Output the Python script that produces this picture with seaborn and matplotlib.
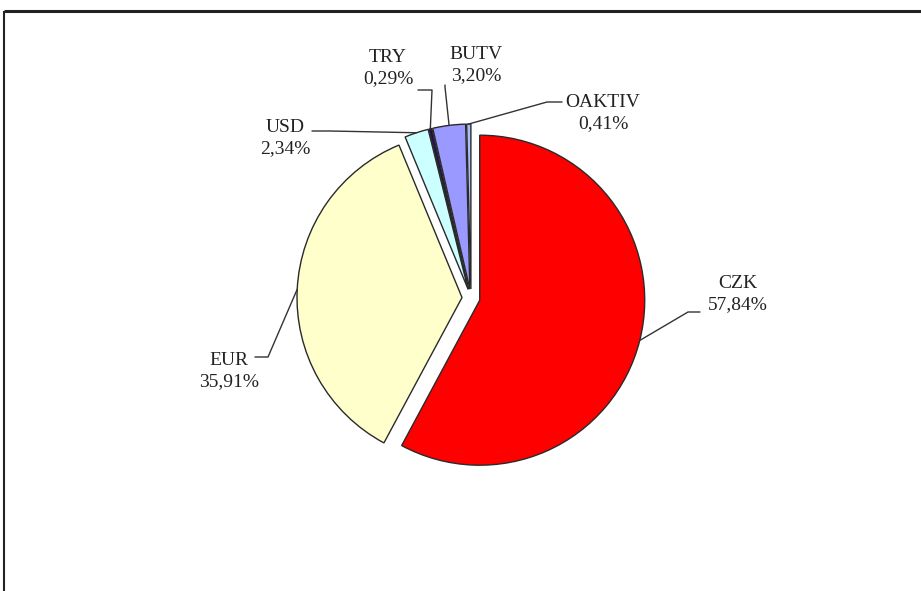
import numpy as np
import matplotlib
matplotlib.use("Agg")
import matplotlib.pyplot as plt
import seaborn as sns

# data
currencies = ["CZK", "EUR", "USD", "TRY", "BUTV", "OAKTIV"]
shares = [57.84, 35.91, 2.34, 0.29, 3.20, 0.41]
share_labels = ["57,84%", "35,91%", "2,34%", "0,29%", "3,20%", "0,41%"]
colors = ["#FF0000", "#FFFFCC", "#CCFFFF", "#240A5C", "#9999FF", "#A9BFF8"]

sns.set_theme(style="white")
plt.rcParams["font.family"] = ["Liberation Serif", "DejaVu Serif"]

W, H = 921, 591
fig = plt.figure(figsize=(W / 100, H / 100), dpi=100)
ax = fig.add_axes([0, 0, 1, 1])

R = 165
# explode is in data units here (pixels)
wedges, _ = ax.pie(shares, colors=colors, startangle=90, counterclock=False,
                   radius=R, center=(471, H - 298), explode=[9] * len(shares),
                   wedgeprops=dict(edgecolor="#2a2a2a", linewidth=1.0), frame=True)
ax.set_xlim(0, W)
ax.set_ylim(0, H)
ax.set_aspect("equal")
ax.axis("off")

# label layout in screen pixels: text centre, line end near text, elbow
text_pos = [(738, 294), (229, 371), (285, 138), (388, 68), (476, 65), (603, 113)]
line_end = [(700, 312), (255, 357), (312, 131), (418, 90), (445, 85), (562, 102)]
elbow = [(688, 312), (268, 357), (330, 131), (432, 90), (445, 87), (547, 102)]

for w, name, lab, tp, le, eb in zip(wedges, currencies, share_labels, text_pos, line_end, elbow):
    ang = np.deg2rad((w.theta1 + w.theta2) / 2)
    cx, cy = w.center
    px, py = cx + w.r * np.cos(ang), cy + w.r * np.sin(ang)
    ax.plot([le[0], eb[0], px], [H - le[1], H - eb[1], py], color="#333333", lw=1.0)
    ax.text(tp[0], H - tp[1], f"{name}\n{lab}", ha="center", va="center",
            fontsize=14, linespacing=1.25, color="#222222")

# outer frame (only left and top edges visible)
ax.plot([4, 4], [0, H - 11], color="#222222", lw=1.5, solid_capstyle="butt")
ax.plot([4, W], [H - 11, H - 11], color="#222222", lw=2.2, solid_capstyle="butt")

fig.savefig("out.png", dpi=100)
